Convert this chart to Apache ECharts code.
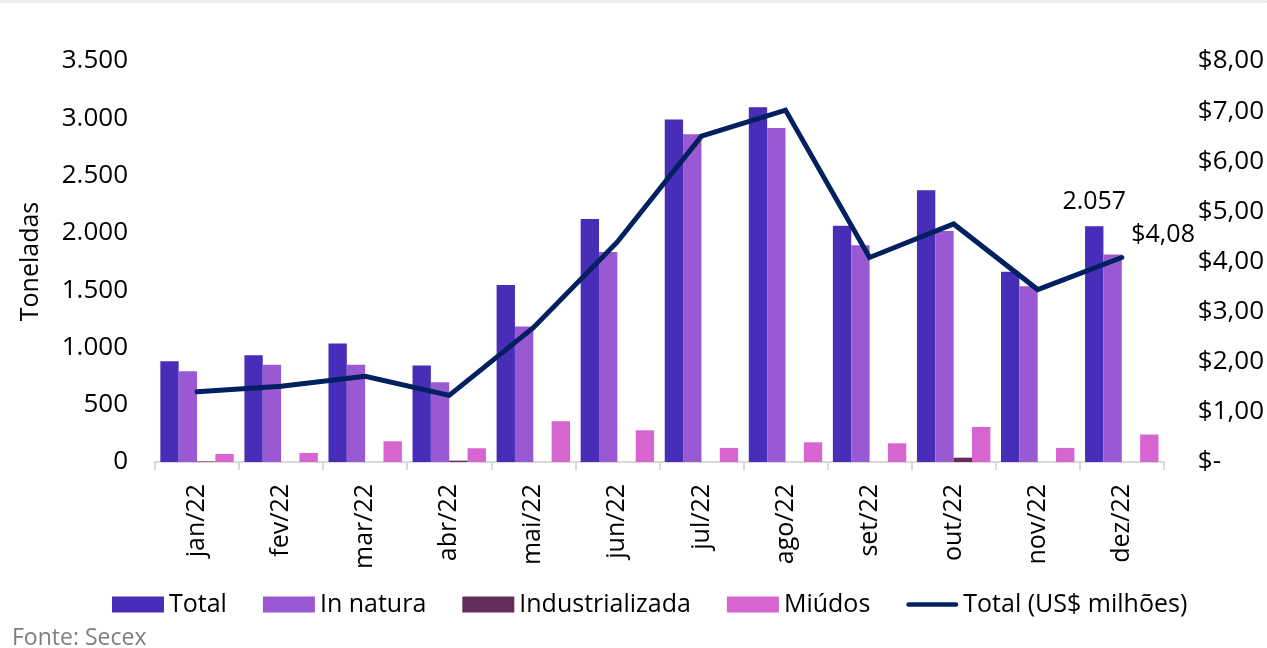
<!DOCTYPE html>
<html>
<head>
<meta charset="utf-8">
<script src="https://cdn.jsdelivr.net/npm/echarts@6/dist/echarts.min.js"></script>
<style>
html,body{margin:0;padding:0;background:#fff;}
#chart{width:1267px;height:648px;}
</style>
</head>
<body>
<div id="chart"></div>
<script>
var categories = ['jan/22','fev/22','mar/22','abr/22','mai/22','jun/22','jul/22','ago/22','set/22','out/22','nov/22','dez/22'];
var total = [880, 932, 1035, 842, 1544, 2121, 2989, 3097, 2063, 2372, 1661, 2057];
var inNatura = [793, 848, 848, 697, 1183, 1833, 2861, 2916, 1891, 2016, 1533, 1812];
var industrializada = [5, 0, 0, 12, 0, 0, 0, 0, 0, 38, 0, 0];
var miudos = [70, 79, 181, 120, 356, 277, 123, 172, 163, 306, 123, 240];
var totalUSD = [1.40, 1.51, 1.71, 1.33, 2.68, 4.39, 6.50, 7.02, 4.08, 4.75, 3.44, 4.08];
var leftTicks = {min: 0, max: 3500, interval: 500};
var rightTicks = {min: 0, max: 8, interval: 1};

var FONT = 'Open Sans';
function fmtThousands(v){
  return String(Math.round(v)).replace(/\B(?=(\d{3})+(?!\d))/g, '.');
}
function fmtUSD(v){
  if (v === 0) return '$-';
  return '$' + v.toFixed(2).replace('.', ',');
}
var last = categories.length - 1;

var chart = echarts.init(document.getElementById('chart'), null, {renderer:'canvas'});
chart.setOption({
  animation: false,
  backgroundColor: '#ffffff',
  textStyle: {fontFamily: FONT},
  grid: {left: 155, right: 103, top: 61, bottom: 186, containLabel: false},
  legend: {
    left: 107, top: 587,
    itemWidth: 52, itemHeight: 16, itemGap: 36,
    textStyle: {fontFamily: FONT, fontSize: 25, color: '#000'},
    data: [
      {name:'Total', icon:'rect'},
      {name:'In natura', icon:'rect'},
      {name:'Industrializada', icon:'rect'},
      {name:'Miúdos', icon:'rect'},
      {name:'Total (US$ milhões)', icon:'path://M2.5,0 L53.5,0 A2.5,2.5 0 0 1 53.5,5 L2.5,5 A2.5,2.5 0 0 1 2.5,0 Z', itemStyle:{color:'#002060'}}
    ]
  },
  xAxis: {
    type: 'category',
    data: categories,
    boundaryGap: true,
    axisLine: {show: true, lineStyle: {color: '#d9d9d9', width: 2}},
    axisTick: {show: true, length: 8, interval: 0, lineStyle: {color: '#d9d9d9', width: 2}},
    axisLabel: {rotate: 90, margin: 22, fontSize: 25, color: '#000', fontFamily: FONT, interval: 0}
  },
  yAxis: [
    {
      type: 'value', min: leftTicks.min, max: leftTicks.max, interval: leftTicks.interval,
      name: 'Toneladas', nameLocation: 'middle', nameRotate: 90, nameGap: 112,
      nameTextStyle: {fontSize: 25, color: '#000', fontFamily: FONT},
      axisLine: {show: false}, axisTick: {show: false}, splitLine: {show: false},
      axisLabel: {fontSize: 26, color: '#000', margin: 27, fontFamily: FONT, formatter: fmtThousands}
    },
    {
      type: 'value', min: rightTicks.min, max: rightTicks.max, interval: rightTicks.interval,
      position: 'right',
      axisLine: {show: false}, axisTick: {show: false}, splitLine: {show: false},
      axisLabel: {fontSize: 26, color: '#000', margin: 34, fontFamily: FONT, formatter: fmtUSD}
    }
  ],
  series: [
    {
      name: 'Total', type: 'bar', barGap: '0%', barCategoryGap: '12.7%',
      itemStyle: {color: '#482DB8'},
      data: total.map(function(v,i){
        return i === last ? {value: v, label: {show: true, position: 'top', distance: 12, fontSize: 25, color: '#000', fontFamily: FONT, formatter: function(p){return fmtThousands(p.value);}}} : v;
      })
    },
    {name: 'In natura', type: 'bar', barGap: '0%', barCategoryGap: '12.7%', itemStyle: {color: '#9A58D2'}, data: inNatura},
    {name: 'Industrializada', type: 'bar', barGap: '0%', barCategoryGap: '12.7%', itemStyle: {color: '#652D5E'}, data: industrializada},
    {name: 'Miúdos', type: 'bar', barGap: '0%', barCategoryGap: '12.7%', itemStyle: {color: '#D665CF'}, data: miudos},
    {
      name: 'Total (US$ milhões)', type: 'line', yAxisIndex: 1, z: 5,
      symbol: 'circle', symbolSize: 1, showSymbol: true,
      lineStyle: {color: '#002060', width: 5, cap: 'round', join: 'miter'},
      itemStyle: {color: '#002060'},
      data: totalUSD.map(function(v,i){
        return i === last ? {value: v, label: {show: true, position: 'right', distance: 5, offset: [4, -23], fontSize: 25, color: '#000', fontFamily: FONT, formatter: function(p){return fmtUSD(p.value);}}} : v;
      })
    }
  ],
  graphic: [
    {type: 'rect', left: 0, top: 0, shape: {x: 0, y: 0, width: 1267, height: 3, r: 2}, style: {fill: '#ececec'}, silent: true},
    {type: 'text', left: 12, top: 627, style: {text: 'Fonte: Secex', fontFamily: FONT, fontSize: 23, fill: '#7f7f7f'}, silent: true}
  ]
});
</script>
</body>
</html>
